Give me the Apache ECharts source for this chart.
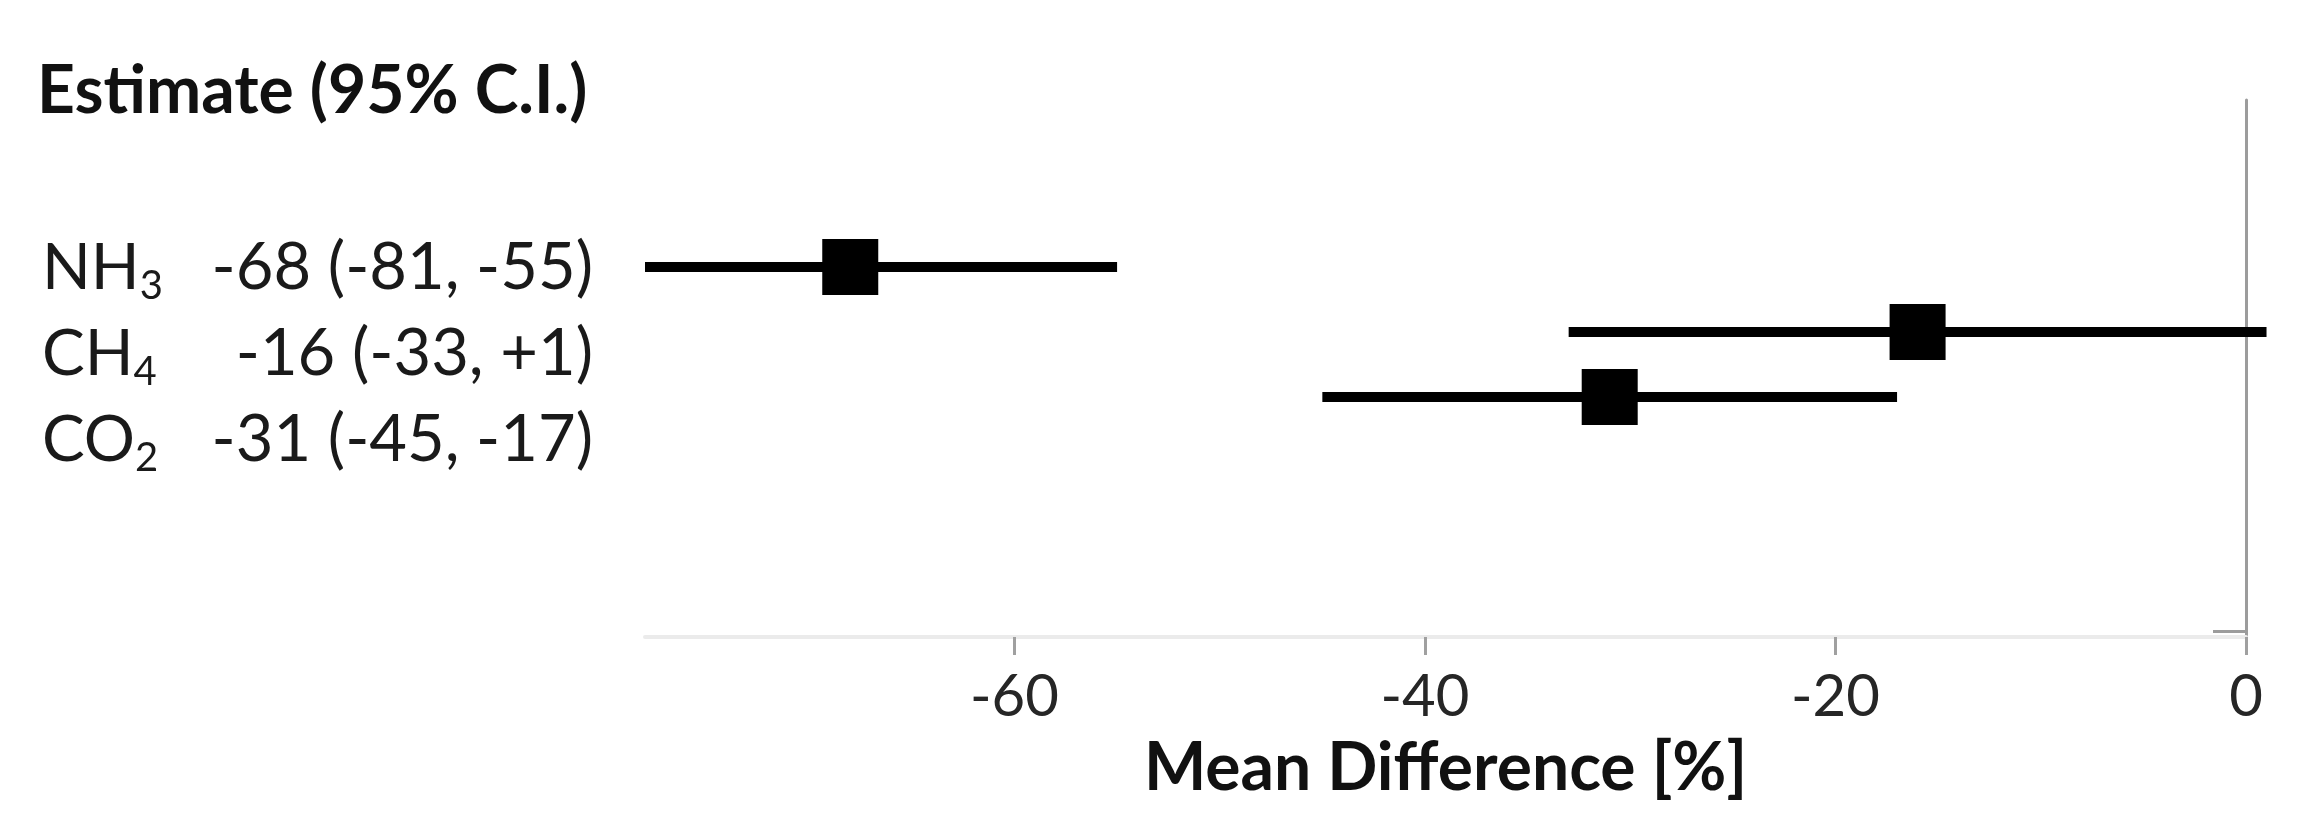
<!DOCTYPE html>
<html><head><meta charset="utf-8">
<script src="https://cdn.jsdelivr.net/npm/echarts@6/dist/echarts.min.js"></script>
<style>html,body{margin:0;padding:0;background:#fff}#c{width:2299px;height:833px}</style>
</head><body><div id="c"></div>
<script>
// ---- data ----
const gases = ['NH3', 'CH4', 'CO2'];
const estimates = [-68, -16, -31];
const lowers = [-81, -33, -45];
const uppers = [-55, 1, -17];
const rows = [1, 2, 3];
const xTicks = [-60, -40, -20, 0];
const xMin = -78, xMax = 0;
const titleText = 'Estimate (95% C.I.)';
const xName = 'Mean Difference [%]';

// ---- layout ----
const FONT = 'Lato';
const textRowY = [268, 354, 440];
const chart = echarts.init(document.getElementById('c'), null, { renderer: 'canvas' });

function fmt(v) { return v > 0 ? '+' + v : String(v); }
const ciLabels = estimates.map((e, i) => `${fmt(e)} (${fmt(lowers[i])}, ${fmt(uppers[i])})`);
const gasRich = gases.map(g => g.replace(/^([A-Za-z]+)(\d+)$/, '{m|$1}{s|$2}'));

const graphics = [{
  type: 'text', x: 37, y: 92,
  style: { text: titleText, font: `bold 66px ${FONT}`, fill: '#111', textAlign: 'left', textVerticalAlign: 'middle' }
}];
gases.forEach((g, i) => {
  graphics.push({
    type: 'text', x: 42, y: textRowY[i],
    style: {
      text: gasRich[i], textAlign: 'left', textVerticalAlign: 'middle',
      rich: {
        m: { fontSize: 64, fontFamily: FONT, fill: '#1a1a1a', lineHeight: 76 },
        s: { fontSize: 40, fontFamily: FONT, fill: '#1a1a1a', lineHeight: 1, verticalAlign: 'bottom' }
      }
    }
  });
  graphics.push({
    type: 'text', x: 593, y: textRowY[i],
    style: { text: ciLabels[i], font: `65px ${FONT}`, fill: '#1a1a1a', textAlign: 'right', textVerticalAlign: 'middle' }
  });
});

const option = {
  animation: false,
  backgroundColor: '#fff',
  grid: { left: 645, right: 53, top: 100, bottom: 196, containLabel: false },
  xAxis: {
    type: 'value', min: xMin, max: xMax,
    axisLine: { show: true, onZero: false, lineStyle: { color: '#ebebeb', width: 4 } },
    axisTick: { show: true, customValues: xTicks, length: 18, lineStyle: { color: '#a0a0a0', width: 3 } },
    axisLabel: { customValues: xTicks, fontFamily: FONT, fontSize: 58, color: '#262626', margin: 31 },
    splitLine: { show: false },
    name: xName, nameLocation: 'middle', nameGap: 99,
    nameTextStyle: { fontFamily: FONT, fontWeight: 'bold', fontSize: 66, color: '#111' }
  },
  yAxis: {
    type: 'value', inverse: true, min: -1.57, max: 6.69, position: 'right',
    axisLine: { show: true, onZero: false, lineStyle: { color: '#9c9c9c', width: 3 } },
    axisTick: { show: true, inside: true, customValues: [6.6], length: 33, lineStyle: { color: '#9c9c9c', width: 3 } },
    axisLabel: { show: false },
    splitLine: { show: false }
  },
  graphic: graphics,
  series: [{
    type: 'custom',
    clip: false,
    encode: { x: [1, 2, 3], y: 0 },
    data: rows.map((r, i) => [r, estimates[i], lowers[i], uppers[i]]),
    renderItem: function (params, api) {
      const y = api.value(0);
      const pE = api.coord([api.value(1), y]);
      const pLo = api.coord([api.value(2), y]);
      const pHi = api.coord([api.value(3), y]);
      const x1 = Math.max(pLo[0], params.coordSys.x);
      const s = 56;
      return {
        type: 'group', children: [
          { type: 'line', shape: { x1: x1, y1: pLo[1], x2: pHi[0], y2: pHi[1] }, style: { stroke: '#000', lineWidth: 10 } },
          { type: 'rect', shape: { x: pE[0] - s / 2, y: pE[1] - s / 2, width: s, height: s }, style: { fill: '#000' } }
        ]
      };
    }
  }]
};
chart.setOption(option);
</script>
</body></html>
